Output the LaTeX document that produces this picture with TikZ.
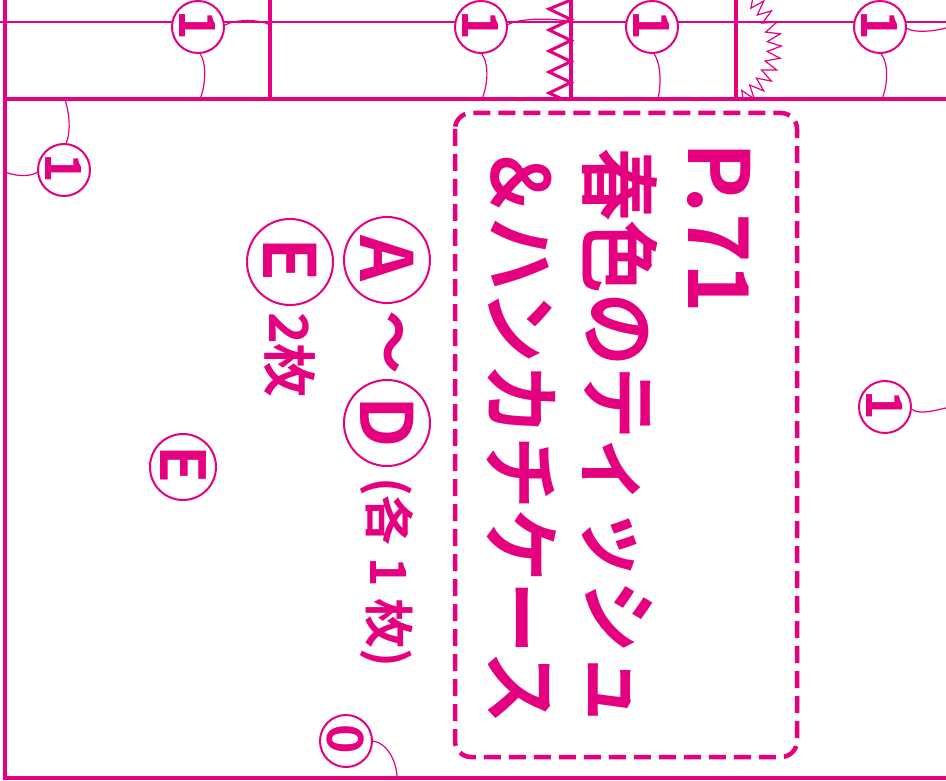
\documentclass[tikz,border=0pt]{standalone}
\usepackage{fontspec}
\usepackage{graphicx}
\setmainfont{Noto Sans CJK JP}[BoldFont={Noto Sans CJK JP Bold}]
\usetikzlibrary{decorations.pathmorphing}
\definecolor{markpink}{RGB}{228,0,127}
\newcommand{\sidetext}[1]{\rotatebox[origin=c]{-90}{#1}}

\begin{document}
\begin{tikzpicture}
[x=1pt, y=-1pt,
seam/.style      = {draw=markpink, line width=4pt},
fold_line/.style = {draw=markpink, line width=1.2pt},
notch/.style     = {draw=markpink, line width=3pt, line join=miter},
pinking/.style   = {draw=markpink, line width=1.2pt, decorate, decoration={zigzag, segment length=11pt, amplitude=7pt}},
leader/.style    = {draw=markpink, line width=1.2pt},
cut_box/.style   = {draw=markpink, line width=4.5pt, rounded corners=16pt, dash pattern=on 17pt off 8pt},
allowance/.style = {circle, draw=markpink, fill=white, line width=2pt, minimum size=52pt, inner sep=0pt, text=markpink, font=\fontsize{50}{50}\selectfont\bfseries},
piece/.style     = {circle, draw=markpink, fill=white, line width=2pt, minimum size=86pt, inner sep=0pt, text=markpink, font=\fontsize{72}{72}\selectfont\bfseries},
title/.style     = {rotate=-90, anchor=base west, inner sep=0pt, text=markpink},
note/.style      = {rotate=-90, inner sep=0pt, text=markpink, font=\fontsize{50}{50}\selectfont\bfseries}
]
\useasboundingbox (0,0) rectangle (946,781);

% outline of the pattern piece
\path[fold_line] (0,22) -- (946,22);
\path[seam] (5,0) -- (5,778) -- (946,778);
\path[seam] (5,99) -- (946,99);
\path[seam] (270,0) -- (270,99);
\path[seam] (571,0) -- (571,99);
\path[seam] (736,0) -- (736,99);
\path[notch] (571,0) -- (549,9) -- (571,19.5) -- (549,30) -- (571,40.5) -- (549,51)
             -- (571,61.5) -- (549,72) -- (571,82.5) -- (549,93) -- (560,98);
\draw[pinking] (748,-2) .. controls (784,18) and (784,78) .. (742,98);

% seam allowance marks
\node[allowance] (mark_a) at (198,27) {\sidetext{1}};
\node[allowance] (mark_b) at (64,170) {\sidetext{1}};
\node[allowance] (mark_c) at (481,27) {\sidetext{1}};
\node[allowance] (mark_d) at (652,27) {\sidetext{1}};
\node[allowance] (mark_e) at (880,27) {\sidetext{1}};
\node[allowance] (mark_f) at (885,407) {\sidetext{1}};
\node[allowance] (mark_zero) at (346,741) {\sidetext{0}};

\coordinate (a_side) at (270,25);
\coordinate (a_foot) at (200,99);
\coordinate (b_top) at (65,99);
\coordinate (b_side) at (5,172);
\coordinate (c_side) at (571,22);
\coordinate (c_foot) at (482,99);
\coordinate (d_foot) at (658,99);
\coordinate (e_side) at (946,28);
\coordinate (e_foot) at (882,99);
\coordinate (f_side) at (946,408);
\coordinate (zero_foot) at (397,778);

\begin{scope}[every path/.style=leader]
\path (mark_a.4) .. controls +(10,-6) and +(-10,-6) .. (a_side);
\path (mark_a.-85) .. controls +(7,12) and +(5,-12) .. (a_foot);
\path (mark_b.85) .. controls +(5,-14) and +(4,14) .. (b_top);
\path (mark_b.185) .. controls +(-8,5) and +(10,4) .. (b_side);
\path (mark_c.5) .. controls +(12,-7) and +(-15,-4) .. (c_side);
\path (mark_c.-88) .. controls +(8,12) and +(5,-12) .. (c_foot);
\path (mark_d.-85) .. controls +(7,12) and +(3,-14) .. (d_foot);
\path (mark_e.-3) .. controls +(8,5) and +(-10,3) .. (e_side);
\path (mark_e.-87) .. controls +(8,12) and +(5,-12) .. (e_foot);
\path (mark_f.-5) .. controls +(8,6) and +(-10,2) .. (f_side);
\path (mark_zero.0) .. controls +(15,2) and +(0,-15) .. (zero_foot);
\end{scope}

% title
\draw[cut_box] (455,113) rectangle (797,757);
\node[title, font=\fontsize{84}{84}\selectfont\bfseries] (title_page) at (688,142) {P.71};
\node[title, xscale=0.91, font=\fontsize{80}{80}\selectfont\bfseries] (title_name) at (589,148) {春色のティッシュ};
\node[title, xscale=0.91, font=\fontsize{80}{80}\selectfont\bfseries] (title_case) at (491,145) {＆ハンカチケース};

% pieces
\node[piece] (piece_a) at (387,260) {\sidetext{A}};
\node[note, font=\fontsize{64}{64}\selectfont\bfseries] (piece_range) at (387,342) {～};
\node[piece] (piece_d) at (387,423) {\sidetext{D}};
\node[note] (piece_count) at (387,572) {(各 1 枚)};
\node[piece] (piece_e) at (290,262) {\sidetext{E}};
\node[note, font=\fontsize{54}{54}\selectfont\bfseries] (piece_e_count) at (290,355) {2枚};
\node[allowance, minimum size=66pt, font=\fontsize{62}{62}\selectfont\bfseries] (mark_piece_e) at (183,467) {\sidetext{E}};

\end{tikzpicture}
\end{document}
